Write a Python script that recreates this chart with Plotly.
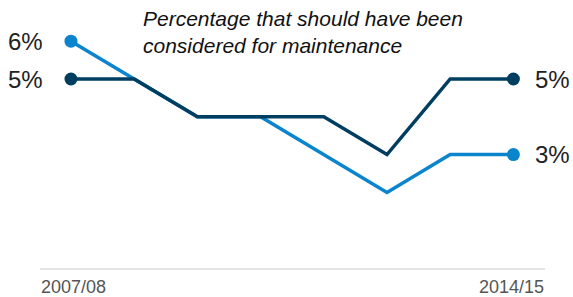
import plotly.graph_objects as go

years = ["2007/08", "2008/09", "2009/10", "2010/11", "2011/12", "2012/13", "2013/14", "2014/15"]
series_a = [6, 5, 4, 4, 3, 2, 3, 3]   # light blue
series_b = [5, 5, 4, 4, 4, 3, 5, 5]   # dark navy
title_text = "Percentage that should have been<br>considered for maintenance"

light = "#0a84cc"
dark = "#003e61"
x = list(range(len(years)))

fig = go.Figure()
for vals, col in [(series_a, light), (series_b, dark)]:
    fig.add_trace(go.Scatter(x=x, y=vals, mode="lines", line=dict(color=col, width=3.5),
                             hoverinfo="skip", showlegend=False))
    fig.add_trace(go.Scatter(x=[x[0], x[-1]], y=[vals[0], vals[-1]], mode="markers",
                             marker=dict(color=col, size=13), hoverinfo="skip", showlegend=False))

font = "Liberation Sans, Arial, sans-serif"
ann = []
for vals in (series_a, series_b):
    ann.append(dict(x=x[0], y=vals[0], xref="x", yref="y", text=f"{vals[0]}%", showarrow=False,
                    xanchor="right", xshift=-26, yanchor="middle",
                    font=dict(family=font, size=24, color="#222")))
    ann.append(dict(x=x[-1], y=vals[-1], xref="x", yref="y", text=f"{vals[-1]}%", showarrow=False,
                    xanchor="left", xshift=20, yanchor="middle",
                    font=dict(family=font, size=24, color="#222")))
ann.append(dict(x=0, y=0, xref="paper", yref="paper", text=years[0], showarrow=False,
                xanchor="left", yanchor="top", yshift=-7, xshift=-1,
                font=dict(family=font, size=18, color="#555")))
ann.append(dict(x=1, y=0, xref="paper", yref="paper", text=years[-1], showarrow=False,
                xanchor="right", yanchor="top", yshift=-7, xshift=1,
                font=dict(family=font, size=18, color="#555")))
ann.append(dict(x=(141 - 40) / 505, y=1, xref="paper", yref="paper", text="<i>" + title_text + "</i>",
                showarrow=False, align="left", xanchor="left", yanchor="top", yshift=-5,
                font=dict(family=font, size=21, color="#111")))

fig.update_layout(
    width=573, height=297,
    margin=dict(l=40, r=28, t=0, b=29),
    paper_bgcolor="white", plot_bgcolor="white",
    xaxis=dict(range=[-0.49, 7.5], showgrid=False, zeroline=False, showticklabels=False,
               showline=True, linecolor="#e3e3e3", linewidth=2, ticks=""),
    yaxis=dict(range=[0, 7.09], showgrid=False, zeroline=False, showticklabels=False,
               showline=False),
    annotations=ann,
)
fig.write_html("out.html", config={"displayModeBar": False},
               post_script="document.body.style.margin='0';")
